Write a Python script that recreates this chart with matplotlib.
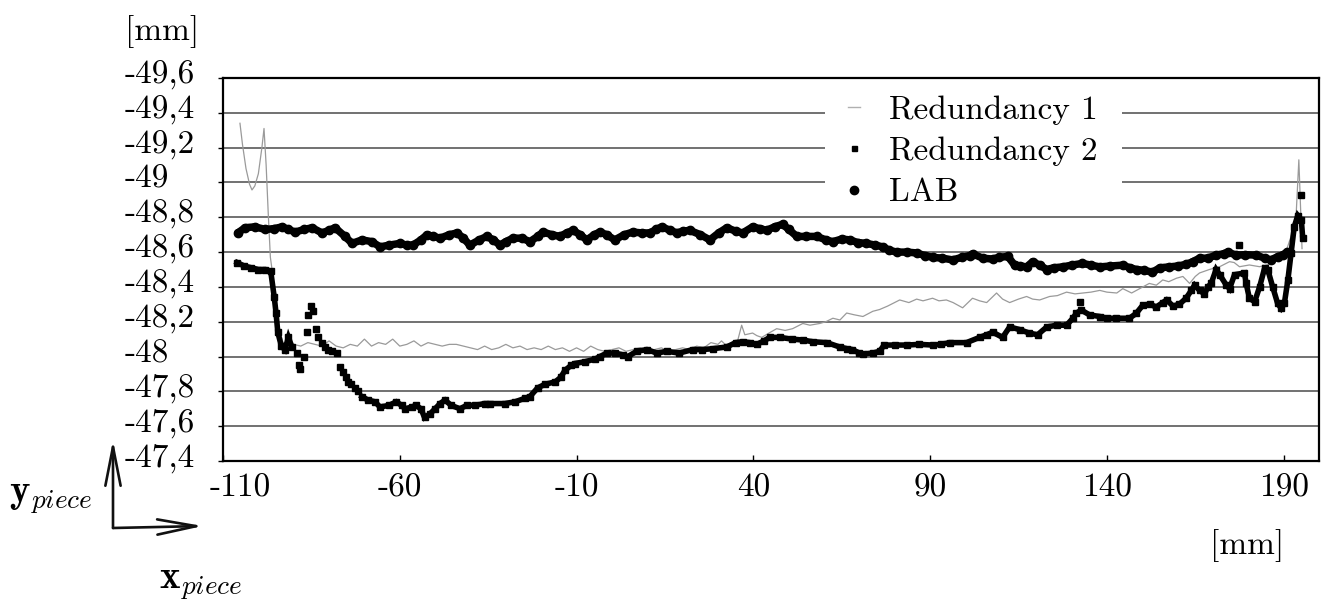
import matplotlib
matplotlib.use('Agg')
import matplotlib.pyplot as plt
import matplotlib.transforms as mtransforms
from matplotlib.lines import Line2D
from matplotlib.patches import Rectangle
import numpy as np

# ---------------- data ----------------
x_ticks = [-110, -60, -10, 40, 90, 140, 190]
x_tick_labels = ['-110', '-60', '-10', '40', '90', '140', '190']
y_ticks = [-49.6, -49.4, -49.2, -49.0, -48.8, -48.6, -48.4, -48.2, -48.0, -47.8, -47.6, -47.4]
y_tick_labels = ['-49,6', '-49,4', '-49,2', '-49', '-48,8', '-48,6', '-48,4', '-48,2', '-48',
                 '-47,8', '-47,6', '-47,4']

red1_x = [-105.2, -104.5, -103.5, -102.5, -101.8, -101, -100, -99, -98.4, -97.8, -97.2, -96.6,
          -96, -95, -94, -93, -92, -90, -88, -86, -84, -82, -80, -78, -76, -74, -72, -70, -68,
          -66, -64, -62, -60, -58, -56, -54, -52, -50, -48, -46, -44, -42, -40, -38, -36, -34,
          -32, -30, -28, -26, -24, -22, -20, -18, -16, -14, -12, -10, -8, -6, -4, -2, 0, 2, 4,
          6, 8, 10, 12, 14, 16, 18, 20, 22, 24, 26, 28, 30, 31, 32, 34, 35.3, 36.7, 37.6, 39.8,
          41, 42.4, 44, 46.6, 49, 51.1, 54, 56, 58.8, 60.5, 62.5, 64.5, 66.4, 68.5, 71, 73.8,
          75.7, 78, 81.4, 84, 86.2, 88, 90.7, 92.5, 94.6, 96.5, 99.2, 102, 104, 106, 108.8,
          110.5, 112.5, 115, 117.3, 119, 121, 123.8, 126, 128.6, 131, 133.2, 135.5, 138, 140,
          142.8, 144.5, 147, 149.3, 152, 154, 155.8, 157.5, 159.7, 161.5, 163.4, 165, 166.2,
          169, 171.9, 174.7, 176, 177.5, 180.3, 183.2, 186, 189.3, 190.6, 192.1, 193.5, 194.3,
          194.8, 195.2]
red1_y = [-49.34, -49.22, -49.08, -48.99, -48.957, -48.98, -49.05, -49.2, -49.31, -49.1, -48.82,
          -48.57, -48.48, -48.3, -48.15, -48.08, -48.06, -48.07, -48.06, -48.08, -48.07, -48.06,
          -48.09, -48.06, -48.05, -48.07, -48.06, -48.10, -48.06, -48.08, -48.07, -48.10, -48.06,
          -48.07, -48.09, -48.06, -48.08, -48.07, -48.06, -48.07, -48.07, -48.06, -48.05, -48.04,
          -48.06, -48.04, -48.05, -48.07, -48.05, -48.06, -48.04, -48.05, -48.04, -48.06, -48.04,
          -48.05, -48.03, -48.05, -48.03, -48.06, -48.04, -48.03, -48.04, -48.05, -48.03, -48.04,
          -48.05, -48.04, -48.04, -48.05, -48.03, -48.04, -48.05, -48.04, -48.06, -48.05, -48.08,
          -48.07, -48.09, -48.07, -48.07, -48.07, -48.18, -48.125, -48.135, -48.12, -48.11,
          -48.13, -48.16, -48.15, -48.16, -48.19, -48.18, -48.19, -48.20, -48.22, -48.21, -48.25,
          -48.24, -48.23, -48.26, -48.27, -48.29, -48.325, -48.31, -48.33, -48.32, -48.335,
          -48.32, -48.325, -48.31, -48.28, -48.335, -48.32, -48.31, -48.365, -48.33, -48.31,
          -48.33, -48.345, -48.33, -48.325, -48.345, -48.35, -48.37, -48.36, -48.365, -48.37,
          -48.38, -48.37, -48.365, -48.39, -48.365, -48.39, -48.42, -48.41, -48.44, -48.43,
          -48.45, -48.46, -48.42, -48.46, -48.48, -48.50, -48.516, -48.545, -48.54, -48.516,
          -48.526, -48.516, -48.53, -48.574, -48.60, -48.69, -48.80, -49.13, -48.85, -48.62]

red2_x = [-106, -104, -102, -100, -98, -96.5, -95.5, -95, -94.5, -93.5, -92.5, -91.5, -90.5,
          np.nan,
          -70.7, -69, -67, -65.6, -63, -61, -59.5, -58.5, -56.5, -55.5, -54, -53, -51.5, -50,
          -48.6, -47.2, -45.5, -43, -41, -38.8, -36, -34.5, -30.3, -27.4, -24.6, -23.2, -21, -19,
          -16, -14.5, -13.3, -11.5, -10.5, -7.7, -4.8, -3.4, -1.4, 1, 3, 4.5, 7, 9.9, 12.7, 15.5,
          19, 22.9, 25.5, 28.5, 32.5, 35, 37, 39, 41, 43, 44.6, 47.5, 51, 54, 56.8, 60.8, 64.4,
          66.5, 68, 70, 71, 73.8, 75.7, 77, 80, 83.4, 87, 90.7, 93, 95.5, 100.3, 104, 106, 107.7,
          110.5, 112.5, 115.3, 118, 120.4, 123, 125.8, 128.6, 130.4, 131.4, 132.8, 135.1, 138,
          140, 142.7, 146.4, 148.3, 150.2, 152.1, 154, 155.8, 156.9, 158.7, 160.5, 162.4, 163.9,
          164.8, 166.2, 167.6, 168.6, 169.5, 170.9, 171.9, 173.8, 174.7, 176.1, 178.9, 179.4,
          180.3, 181.8, 183.2, 184.6, 185.5, 186.9, 188.3, 189.3, 190.2, 191.2, 192.1, 193, 194,
          195, 195.4]
red2_y = [-48.54, -48.52, -48.51, -48.50, -48.50, -48.49, -48.34, -48.25, -48.14, -48.06,
          -48.04, -48.11, -48.055,
          np.nan,
          -47.77, -47.75, -47.74, -47.71, -47.72, -47.74, -47.72, -47.70, -47.71, -47.72, -47.70,
          -47.65, -47.67, -47.70, -47.73, -47.75, -47.72, -47.70, -47.72, -47.72, -47.73, -47.73,
          -47.73, -47.74, -47.76, -47.77, -47.82, -47.84, -47.855, -47.88, -47.92, -47.95, -47.96,
          -47.97, -47.985, -48.0, -48.02, -48.02, -48.01, -48.0, -48.03, -48.04, -48.02, -48.03,
          -48.02, -48.04, -48.04, -48.045, -48.055, -48.08, -48.085, -48.08, -48.07, -48.09,
          -48.11, -48.11, -48.10, -48.095, -48.085, -48.08, -48.055, -48.045, -48.04, -48.02,
          -48.015, -48.02, -48.03, -48.066, -48.066, -48.066, -48.07, -48.066, -48.07, -48.08,
          -48.08, -48.11, -48.125, -48.14, -48.11, -48.17, -48.155, -48.135, -48.125, -48.17,
          -48.18, -48.18, -48.22, -48.25, -48.267, -48.239, -48.23, -48.22, -48.22, -48.22,
          -48.248, -48.296, -48.30, -48.285, -48.31, -48.325, -48.29, -48.30, -48.335, -48.38,
          -48.41, -48.38, -48.36, -48.40, -48.42, -48.50, -48.47, -48.41, -48.39, -48.47, -48.48,
          -48.42, -48.335, -48.315, -48.40, -48.507, -48.50, -48.40, -48.305, -48.277, -48.305,
          -48.44, -48.593, -48.746, -48.81, -48.785, -48.68]

red2_scatter_x = [-89, -88.5, -88.2, -87, -86.3, -86, -85.2, -84.6, -83.7, -83, -82, -81.2,
                  -80.2, -79.2, -77.8, -77, -76, -75.3, -74.7, -73.7, -72.7, -71.7,
                  132.3, 177.5, 195]
red2_scatter_y = [-48.02, -47.95, -47.93, -48.0, -48.14, -48.24, -48.29, -48.26, -48.16, -48.11,
                  -48.08, -48.055, -48.04, -48.03, -48.02, -47.94, -47.91, -47.88, -47.855,
                  -47.84, -47.82, -47.80,
                  -48.315, -48.64, -48.93]

lab_x = [-105.8, -103.8, -101, -98, -95.5, -93.3, -91.5, -89.6, -87, -84.8, -82, -80, -78.3,
         -75.5, -73.5, -70.7, -67.9, -65.6, -63, -60, -58, -56.3, -54, -52.3, -50.5, -48.6, -46,
         -43.8, -42, -40.2, -37.5, -35.4, -33.5, -31.7, -30, -28, -25.5, -23.2, -21, -19.5, -17,
         -14.7, -12.8, -11, -9, -7.1, -5, -3.4, -1.5, 0.8, 3.5, 5.9, 8.5, 10.7, 12.5, 14.1, 16.5,
         18.4, 20, 22, 25, 27.7, 30.2, 32.5, 35, 37, 39.8, 41.8, 43.8, 46, 48.3, 50, 52.3, 55, 58,
         60.5, 62.5, 65, 67.3, 69.5, 72, 74.5, 76.6, 78.5, 80.6, 83.5, 86.2, 88.5, 90.7, 93.5,
         96.4, 99, 101.2, 102, 104.9, 107.7, 109.5, 112, 113.9, 115.5, 117.3, 119, 121, 123, 125,
         127.5, 130, 133.1, 135.5, 138, 141, 144.5, 146.5, 148.4, 150.5, 152.9, 155, 157.7, 160,
         162.5, 164.3, 166.2, 168.5, 170.9, 173, 174.2, 176.5, 179, 182.2, 184.6, 186.4, 188.3,
         189.7, 191]
lab_y = [-48.71, -48.74, -48.745, -48.73, -48.735, -48.745, -48.73, -48.715, -48.73, -48.74,
         -48.71, -48.725, -48.74, -48.69, -48.65, -48.67, -48.66, -48.63, -48.64, -48.65, -48.64,
         -48.64, -48.67, -48.70, -48.69, -48.68, -48.70, -48.71, -48.68, -48.64, -48.67, -48.69,
         -48.67, -48.64, -48.66, -48.68, -48.68, -48.66, -48.69, -48.715, -48.70, -48.69, -48.71,
         -48.725, -48.70, -48.67, -48.70, -48.715, -48.70, -48.67, -48.70, -48.715, -48.71,
         -48.71, -48.73, -48.745, -48.725, -48.71, -48.72, -48.725, -48.70, -48.67, -48.71,
         -48.74, -48.72, -48.71, -48.745, -48.735, -48.725, -48.745, -48.76, -48.73, -48.69,
         -48.69, -48.69, -48.67, -48.66, -48.675, -48.67, -48.655, -48.65, -48.64, -48.63,
         -48.61, -48.60, -48.60, -48.595, -48.58, -48.57, -48.565, -48.555, -48.57, -48.58,
         -48.59, -48.565, -48.56, -48.57, -48.575, -48.525, -48.52, -48.515, -48.545, -48.525,
         -48.50, -48.51, -48.515, -48.525, -48.535, -48.525, -48.515, -48.52, -48.525, -48.51,
         -48.50, -48.495, -48.485, -48.51, -48.515, -48.52, -48.53, -48.545, -48.565, -48.565,
         -48.583, -48.59, -48.60, -48.583, -48.585, -48.583, -48.565, -48.555, -48.574, -48.583,
         -48.60]

legend_labels = ['Redundancy 1', 'Redundancy 2', 'LAB']

# ---------------- style ----------------
plt.rcParams['font.family'] = ['cmr10', 'DejaVu Serif']
plt.rcParams['mathtext.fontset'] = 'cm'
plt.rcParams['axes.unicode_minus'] = False
plt.rcParams['axes.formatter.use_mathtext'] = True

W, H = 1333, 601
fig = plt.figure(figsize=(W / 100, H / 100), dpi=100)
AX_L, AX_R, AX_T, AX_B = 223, 1319, 78, 461
ax = fig.add_axes([AX_L / W, 1 - AX_B / H, (AX_R - AX_L) / W, (AX_B - AX_T) / H])


def ax_x(px):
    return (px - AX_L) / (AX_R - AX_L)


def ax_y(py):
    return (AX_B - py) / (AX_B - AX_T)


ax.set_xlim(-110, 200)
ax.set_ylim(-47.4, -49.6)

ax.set_axisbelow(True)
ax.yaxis.grid(True, color='#4a4a4a', lw=1.1, zorder=0.5)
ax.xaxis.grid(False)
for s in ax.spines.values():
    s.set_color('black')
    s.set_linewidth(1.6)

ax.plot(red1_x, red1_y, color='#9a9a9a', lw=0.9, zorder=3)
ax.plot(lab_x, lab_y, color='black', lw=5.4, marker='o', ms=6.0,
        solid_capstyle='round', solid_joinstyle='round', zorder=4)
ax.plot(red2_x, red2_y, color='black', lw=4.0, marker='s', ms=4.2,
        solid_joinstyle='miter', zorder=5)
ax.plot(red2_scatter_x, red2_scatter_y, ls='none', color='black', marker='s', ms=4.2, zorder=5)

ax.set_xticks(x_ticks)
ax.set_xticklabels(x_tick_labels)
ax.set_yticks(y_ticks)
ax.set_yticklabels(y_tick_labels)
ax.tick_params(axis='x', direction='in', length=4.3, width=1.0, labelsize=24, pad=9, top=False)
ax.tick_params(axis='y', direction='out', length=3.6, width=1.0, labelsize=24, pad=67,
               colors='black')
for lab in ax.get_yticklabels():
    lab.set_horizontalalignment('left')
    lab.set_transform(lab.get_transform() +
                      mtransforms.ScaledTranslation(0, 6 / 100, fig.dpi_scale_trans))
# first x label sits a little to the right of the axis corner
first = ax.get_xticklabels()[0]
first.set_transform(first.get_transform() +
                    mtransforms.ScaledTranslation(17 / 100, 0, fig.dpi_scale_trans))

# white patch behind the legend (hides the grid there)
ax.add_patch(Rectangle((ax_x(825), ax_y(207)), ax_x(1122) - ax_x(825), ax_y(92) - ax_y(207),
                       transform=ax.transAxes, facecolor='white', edgecolor='none', zorder=1))

handles = [Line2D([], [], color='#b0b0b0', lw=1.0),
           Line2D([], [], ls='none', marker='s', color='black', ms=3.6),
           Line2D([], [], ls='none', marker='o', color='black', ms=6.0)]
leg = ax.legend(handles, legend_labels, loc='upper left',
                bbox_to_anchor=(ax_x(848), ax_y(95)),
                borderaxespad=0, frameon=False, fontsize=24,
                handlelength=0.36, handletextpad=0.87, labelspacing=0.36, borderpad=0.0)
leg.set_zorder(6)

# texts
fig.text(199 / W, 1 - 40 / H, '[mm]', ha='right', va='baseline', fontsize=24)
fig.text(1284 / W, 1 - 554 / H, '[mm]', ha='right', va='baseline', fontsize=24)
fig.text(51 / W, 1 - 498 / H, r'$\mathbf{y}_{piece}$', ha='center', va='center', fontsize=28)
fig.text(201 / W, 1 - 584 / H, r'$\mathbf{x}_{piece}$', ha='center', va='center', fontsize=28)

# axis direction arrows
aprops = dict(arrowstyle='->,head_length=2.8,head_width=0.55', lw=1.9,
              color='#111111', shrinkA=0, shrinkB=0)
ax.annotate('', xy=(113 / W, 1 - 440 / H), xytext=(113 / W, 1 - 528 / H),
            xycoords='figure fraction', textcoords='figure fraction', arrowprops=aprops)
ax.annotate('', xy=(203 / W, 1 - 526 / H), xytext=(113 / W, 1 - 528 / H),
            xycoords='figure fraction', textcoords='figure fraction', arrowprops=aprops)

fig.savefig('out.png', dpi=100)
